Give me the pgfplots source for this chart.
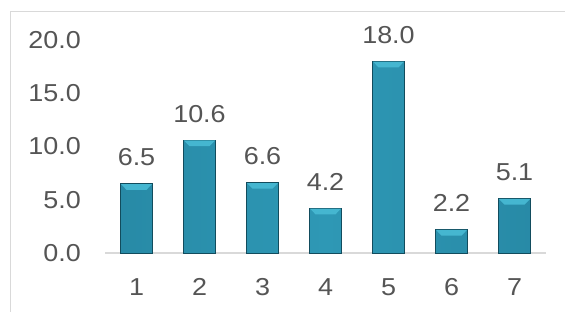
\documentclass[border=0pt]{standalone}
\usepackage{pgfplots}
\usepackage{pgfplotstable}
\pgfplotsset{compat=1.18}
\usepackage{fontspec}
\setmainfont[FakeStretch=1.1]{Liberation Sans}
\definecolor{txt}{HTML}{555555}
\definecolor{framec}{HTML}{D9D9D9}
\definecolor{bdark}{HTML}{155A6E}
\definecolor{bmid}{HTML}{2584A0}
\definecolor{blight}{HTML}{2E98B5}
\definecolor{capc}{HTML}{45B6D0}
\pgfdeclarehorizontalshading{barshade}{100bp}{color(0bp)=(bdark); color(14bp)=(bmid); color(50bp)=(blight); color(86bp)=(bmid); color(100bp)=(bdark)}
\pgfdeclareplotmark{cap}{%
  \pgfpathmoveto{\pgfqpoint{-15.6bp}{-0.3bp}}%
  \pgfpathlineto{\pgfqpoint{15.6bp}{-0.3bp}}%
  \pgfpathlineto{\pgfqpoint{10bp}{-6bp}}%
  \pgfpathlineto{\pgfqpoint{-10bp}{-6bp}}%
  \pgfpathclose
  \pgfusepath{fill}}
\pgfplotstableread{
x y
1 6.5
2 10.6
3 6.6
4 4.2
5 18.0
6 2.2
7 5.1
}\datatable
\begin{document}
\begin{tikzpicture}
\path[use as bounding box] (0,0) rectangle (565bp,312bp);
\draw[framec, line width=1.5bp] (10.5bp,-5bp) -- (10.5bp,300.5bp) -- (570bp,300.5bp);
\begin{axis}[
  at={(105bp,59bp)}, anchor=south west,
  scale only axis, width=441bp, height=213bp,
  xmin=0.5, xmax=7.5, ymin=0, ymax=20,
  axis lines*=left,
  y axis line style={draw=none},
  x axis line style={draw=framec, line width=1.2bp},
  major tick length=0pt,
  xtick={1,...,7},
  ytick={0,5,10,15,20},
  font=\fontsize{24.5bp}{30bp}\selectfont,
  /pgf/number format/assume math mode=true,
  yticklabel={\pgfmathprintnumber[fixed,fixed zerofill,precision=1]{\tick}},
  yticklabel style={anchor=east, inner sep=0pt, xshift=-24bp, text=txt},
  xticklabel style={anchor=north, inner sep=0pt, yshift=-25bp, text=txt},
  clip=false,
]
\addplot[ybar, bar width=32bp, draw=bdark!85!black, line width=0.6bp, shade, shading=barshade,
  nodes near coords={\pgfmathprintnumber[fixed,fixed zerofill,precision=1,assume math mode=true]{\pgfplotspointmeta}},
  every node near coord/.append style={inner sep=0pt, yshift=17.5bp, text=txt, font=\fontsize{24.5bp}{30bp}\selectfont},
] table[x=x,y=y] {\datatable};
\addplot[only marks, mark=cap, mark options={fill=capc, draw=none}] table[x=x,y=y] {\datatable};
\end{axis}
\end{tikzpicture}
\end{document}
